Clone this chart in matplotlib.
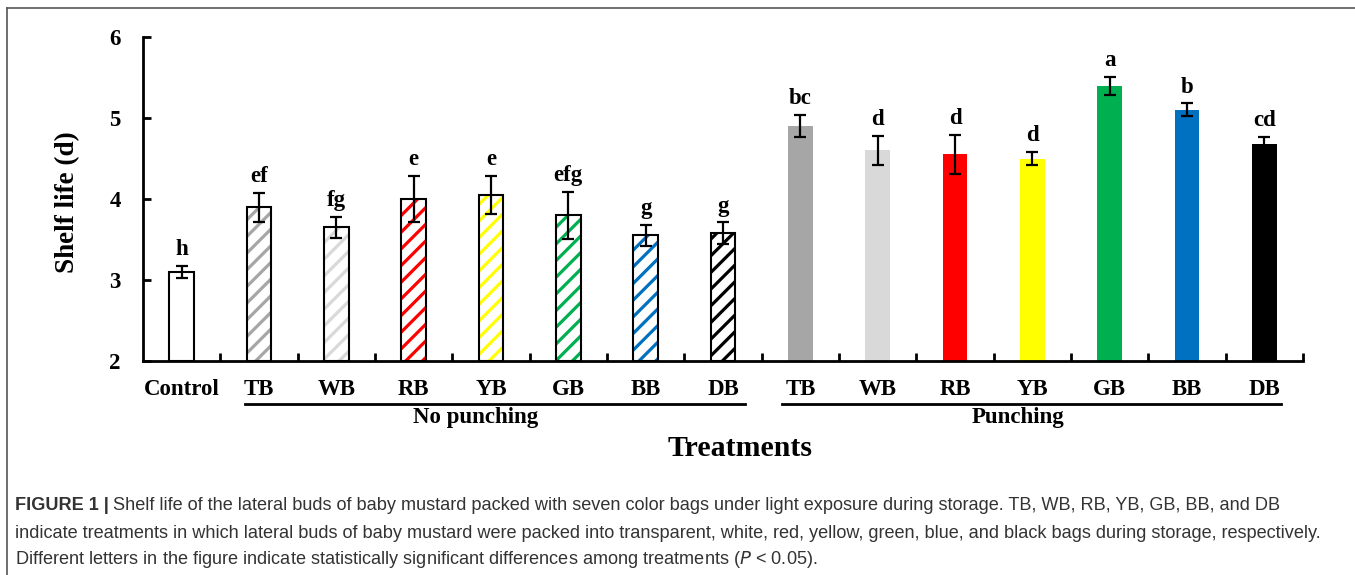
import matplotlib.pyplot as plt
from matplotlib.lines import Line2D
import numpy as np

# 处理组名与数据
labels = ['Control', 'TB', 'WB', 'RB', 'YB', 'GB', 'BB', 'DB',
          'TB', 'WB', 'RB', 'YB', 'GB', 'BB', 'DB']
shelf_life = [3.10, 3.90, 3.65, 4.00, 4.05, 3.80, 3.55, 3.58,
              4.90, 4.60, 4.55, 4.50, 5.40, 5.10, 4.68]
errors = [0.075, 0.18, 0.13, 0.29, 0.24, 0.29, 0.13, 0.13,
          0.14, 0.18, 0.24, 0.08, 0.11, 0.08, 0.09]
letters = ['h', 'ef', 'fg', 'e', 'e', 'efg', 'g', 'g',
           'bc', 'd', 'd', 'd', 'a', 'b', 'cd']
bag_colors = ['#A6A6A6', '#D9D9D9', '#FF0000', '#FFFF00', '#00B050', '#0070C0', '#000000']

caption_1 = ("Shelf life of the lateral buds of baby mustard packed with seven color bags under light "
             "exposure during storage. TB, WB, RB, YB, GB, BB, and DB")
caption_2 = ("indicate treatments in which lateral buds of baby mustard were packed into transparent, "
             "white, red, yellow, green, blue, and black bags during storage, respectively.")
caption_3 = "Different letters in the figure indicate statistically significant differences among treatments ("

serif = ['Liberation Serif', 'DejaVu Serif']
sans = ['Liberation Sans Narrow', 'Liberation Sans', 'DejaVu Sans']
plt.rcParams['hatch.linewidth'] = 2.3

fig = plt.figure(figsize=(13.55, 5.75), dpi=100)
ax = fig.add_axes([143 / 1355, 1 - 361 / 575, 1160 / 1355, 324 / 575])

x = np.arange(len(labels))
w = 0.32
bottom = 2

# 对照（白色空心）
ax.bar(x[0], shelf_life[0] - bottom, w, bottom=bottom, facecolor='white',
       edgecolor='black', linewidth=1.5, zorder=2)

# 不打孔：白底彩色斜线
for i, c in enumerate(bag_colors):
    k = i + 1
    ax.bar(x[k], shelf_life[k] - bottom, w, bottom=bottom, facecolor='white',
           edgecolor=c, hatch='//', linewidth=0, zorder=2)
    ax.bar(x[k], shelf_life[k] - bottom, w, bottom=bottom, facecolor='none',
           edgecolor='black', linewidth=1.5, zorder=3)

# 打孔：实心填充
for i, c in enumerate(bag_colors):
    k = i + 8
    ax.bar(x[k], shelf_life[k] - bottom, w, bottom=bottom, color=c,
           linewidth=0, zorder=2)

ax.errorbar(x, shelf_life, yerr=errors, fmt='none', ecolor='black',
            elinewidth=1.6, capsize=4.5, capthick=1.6, zorder=4)

# 显著性字母
for xi, v, e, t in zip(x, shelf_life, errors, letters):
    ax.text(xi, v + e + 0.13, t, ha='center', va='baseline', fontsize=16.5,
            fontweight='bold', family=serif)

ax.set_xlim(-0.5, len(labels) - 0.5)
ax.set_ylim(2, 6)
ax.set_yticks([2, 3, 4, 5, 6])
ax.set_xticks(x)
ax.set_xticklabels(labels, fontsize=16.5, fontweight='bold', family=serif)
ax.set_xticks(np.arange(0.5, len(labels)), minor=True)
ax.tick_params(axis='x', which='major', length=0, pad=13)
ax.tick_params(axis='x', which='minor', direction='in', length=6, width=2)
ax.tick_params(axis='y', direction='in', length=6, width=2, pad=16, labelsize=16.5)
for lab in ax.get_yticklabels():
    lab.set_fontweight('bold')
    lab.set_family(serif)

for s in ['top', 'right']:
    ax.spines[s].set_visible(False)
for s in ['left', 'bottom']:
    ax.spines[s].set_linewidth(2)

# 分组线与组名
fig.add_artist(Line2D([245 / 1355, 745 / 1355], [1 - 404 / 575] * 2, color='black', lw=2))
fig.add_artist(Line2D([782 / 1355, 1281 / 1355], [1 - 404 / 575] * 2, color='black', lw=2))
fig.text(476 / 1355, 1 - 418 / 575, 'No punching', ha='center', va='center', fontsize=16.5,
         fontweight='bold', family=serif)
fig.text(1018 / 1355, 1 - 418 / 575, 'Punching', ha='center', va='center', fontsize=16.5,
         fontweight='bold', family=serif)
fig.text(740 / 1355, 1 - 448 / 575, 'Treatments', ha='center', va='center', fontsize=21.5,
         fontweight='bold', family=serif)
fig.text(68 / 1355, 1 - 202 / 575, 'Shelf life (d)', ha='center', va='center', fontsize=19.5,
         fontweight='bold', family=serif, rotation=90)

# 外框
fig.add_artist(Line2D([7 / 1355, 1], [1 - 8 / 575] * 2, color='#555555', lw=1.2))
fig.add_artist(Line2D([7 / 1355] * 2, [0, 1 - 8 / 575], color='#555555', lw=1.2))

# 图注
cap_col = '#333333'
cap_size = 13.1
t1 = fig.text(15 / 1355, 1 - 505 / 575, 'FIGURE 1 |', fontsize=cap_size, fontweight='bold',
              family=sans, color=cap_col, va='center')
fig.canvas.draw()
bb = t1.get_window_extent()
fig.text((bb.x1 + 4) / 1355, 1 - 505 / 575, caption_1, fontsize=cap_size, family=sans,
         color=cap_col, va='center')
fig.text(15 / 1355, 1 - 533 / 575, caption_2, fontsize=cap_size, family=sans, color=cap_col,
         va='center')
fig.text(15 / 1355, 1 - 559 / 575, caption_3 + r'$P$ < 0.05).', fontsize=cap_size, family=sans,
         color=cap_col, va='center')

fig.savefig('out.png', dpi=100)
